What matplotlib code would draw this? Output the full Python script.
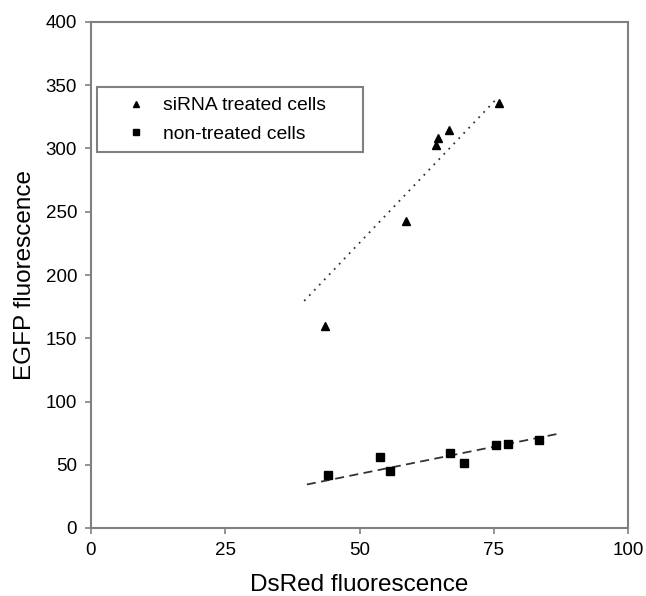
import numpy as np
import matplotlib.pyplot as plt

# --- data ---
sirna_x = [43.5, 58.7, 64.2, 64.7, 66.7, 75.9]
sirna_y = [160, 243, 303, 308, 315, 336]
sirna_fit_x = [39.7, 75.7]
sirna_fit_y = [179.5, 340]

ctrl_x = [44.1, 53.9, 55.6, 66.9, 69.4, 75.4, 77.7, 83.5]
ctrl_y = [41.7, 56, 45, 59.3, 51, 65.9, 66.7, 69.3]
ctrl_fit_x = [40.2, 87.6]
ctrl_fit_y = [34.4, 75]

x_ticks = [0, 25, 50, 75, 100]
y_ticks = [0, 50, 100, 150, 200, 250, 300, 350, 400]

plt.rcParams['font.family'] = ['Liberation Sans', 'DejaVu Sans']

fig = plt.figure(figsize=(6.46, 5.96), dpi=100)
ax = fig.add_axes([91 / 646, 1 - 528 / 596, 537 / 646, 506 / 596])

# trend lines
ax.plot(sirna_fit_x, sirna_fit_y, color='#333333', linestyle=(0, (1, 3)), linewidth=1.3)
ax.plot(ctrl_fit_x, ctrl_fit_y, color='#333333', linestyle=(0, (5, 3)), linewidth=1.3)

# points
ax.plot(sirna_x, sirna_y, linestyle='none', marker='^', color='black', markersize=6.3,
        label='siRNA treated cells')
ax.plot(ctrl_x, ctrl_y, linestyle='none', marker='s', color='black', markersize=5.8,
        label='non-treated cells')

ax.set_xlim(0, 100)
ax.set_ylim(0, 400)
ax.set_xticks(x_ticks)
ax.set_yticks(y_ticks)
ax.tick_params(direction='out', length=4, width=1.2, color='#808080',
               labelsize=13.5, pad=6)
for sp in ax.spines.values():
    sp.set_color('#808080')
    sp.set_linewidth(1.5)

ax.set_xlabel('DsRed fluorescence', fontsize=17.5, labelpad=11)
ax.set_ylabel('EGFP fluorescence', fontsize=17.5, labelpad=7)

# legend box spans a fixed region of the axes (mode='expand')
leg = ax.legend(loc='upper left', bbox_to_anchor=(0.011, 0.751, 0.495, 0.12),
                mode='expand', borderaxespad=0,
                fontsize=13.9, fancybox=False, framealpha=1, edgecolor='#808080',
                handlelength=3.1, handletextpad=-0.2, markerscale=0.72,
                borderpad=0.5, labelspacing=0.55)
leg.get_frame().set_linewidth(1.5)

fig.savefig('out.png', dpi=100)
